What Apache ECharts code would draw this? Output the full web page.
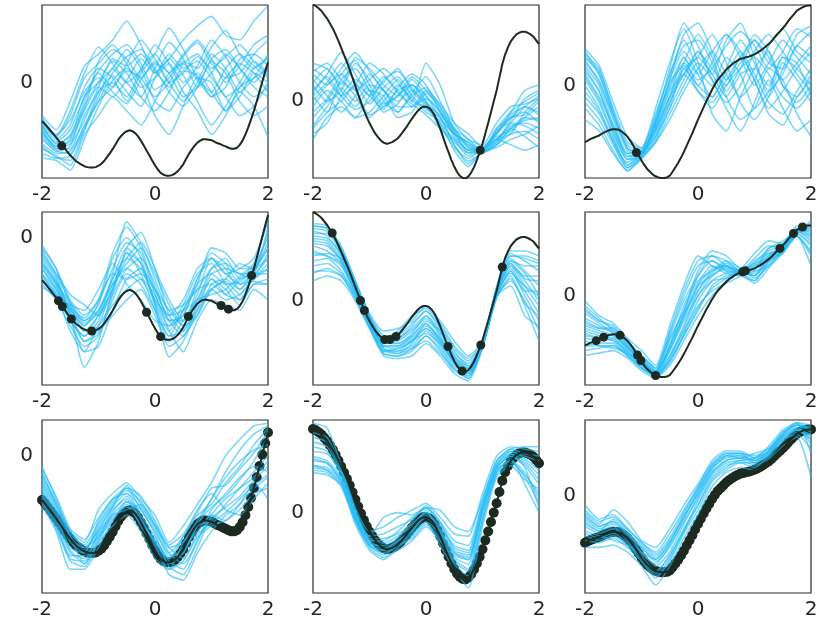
<!DOCTYPE html>
<html lang="en">
<head>
    <meta charset="UTF-8">
    <title>GP samples</title>
    <script src="https://cdn.jsdelivr.net/npm/echarts@6.0.0/dist/echarts.min.js"></script>
    <style>
        body {
            padding: 0;
            margin: 0;
            border: none;
            background: #fff;
        }
        #ec {
            width: 830px;
            height: 626px;
        }
    </style>
</head>
<body>
<div id="ec"></div>
<script>
    // x grids: fine one for the true function, coarse one for the posterior samples
    const xFine = [-2, -1.95, -1.9, -1.85, -1.8, -1.75, -1.7, -1.65, -1.6, -1.55, -1.5, -1.45, -1.4, -1.35, -1.3, -1.25,
        -1.2, -1.15, -1.1, -1.05, -1, -0.95, -0.9, -0.85, -0.8, -0.75, -0.7, -0.65, -0.6, -0.55, -0.5, -0.45, -0.4,
        -0.35, -0.3, -0.25, -0.2, -0.15, -0.1, -0.05, 0, 0.05, 0.1, 0.15, 0.2, 0.25, 0.3, 0.35, 0.4, 0.45, 0.5, 0.55,
        0.6, 0.65, 0.7, 0.75, 0.8, 0.85, 0.9, 0.95, 1, 1.05, 1.1, 1.15, 1.2, 1.25, 1.3, 1.35, 1.4, 1.45, 1.5, 1.55,
        1.6, 1.65, 1.7, 1.75, 1.8, 1.85, 1.9, 1.95, 2];
    const xCoarse = [-2, -1.75, -1.5, -1.25, -1, -0.75, -0.5, -0.25, 0, 0.25, 0.5, 0.75, 1, 1.25, 1.5, 1.75, 2];
    const xTicks = [-2, 0, 2];
    const yTicks = [0];

    // true functions, one per column
    const trueCol1 = [-0.82, -0.88, -0.95, -1.02, -1.09, -1.16, -1.24, -1.31, -1.39, -1.47, -1.54, -1.60, -1.66, -1.70,
        -1.74, -1.77, -1.79, -1.80, -1.80, -1.79, -1.76, -1.72, -1.66, -1.58, -1.50, -1.41, -1.31, -1.21, -1.13, -1.07,
        -1.03, -1.01, -1.03, -1.07, -1.14, -1.23, -1.33, -1.44, -1.54, -1.65, -1.75, -1.84, -1.91, -1.95, -1.97, -1.97,
        -1.96, -1.93, -1.88, -1.81, -1.73, -1.62, -1.51, -1.42, -1.34, -1.27, -1.23, -1.20, -1.20, -1.21, -1.22, -1.25,
        -1.28, -1.30, -1.33, -1.35, -1.38, -1.40, -1.40, -1.38, -1.32, -1.23, -1.10, -0.95, -0.78, -0.60, -0.40, -0.19,
        0.02, 0.23, 0.43];
    const trueCol2 = [1.78, 1.75, 1.71, 1.66, 1.59, 1.52, 1.43, 1.34, 1.23, 1.11, 0.98, 0.85, 0.72, 0.58, 0.43, 0.28,
        0.13, -0.02, -0.16, -0.29, -0.40, -0.50, -0.59, -0.66, -0.72, -0.76, -0.78, -0.77, -0.75, -0.72, -0.68, -0.62,
        -0.55, -0.48, -0.40, -0.32, -0.25, -0.18, -0.13, -0.10, -0.10, -0.12, -0.17, -0.25, -0.37, -0.50, -0.65, -0.80,
        -0.94, -1.08, -1.20, -1.30, -1.37, -1.41, -1.42, -1.38, -1.31, -1.21, -1.08, -0.94, -0.78, -0.59, -0.40, -0.20,
        0.00, 0.20, 0.44, 0.68, 0.86, 0.99, 1.10, 1.17, 1.23, 1.26, 1.28, 1.28, 1.26, 1.23, 1.19, 1.12, 1.05];
    const trueCol3 = [-1.00, -0.97, -0.94, -0.92, -0.90, -0.88, -0.85, -0.82, -0.80, -0.78, -0.77, -0.77, -0.78, -0.81,
        -0.85, -0.90, -0.97, -1.05, -1.14, -1.23, -1.32, -1.40, -1.47, -1.52, -1.57, -1.60, -1.62, -1.63, -1.63, -1.62,
        -1.59, -1.52, -1.44, -1.36, -1.27, -1.17, -1.06, -0.95, -0.84, -0.72, -0.60, -0.49, -0.38, -0.27, -0.17, -0.07,
        0.02, 0.10, 0.16, 0.22, 0.28, 0.33, 0.37, 0.41, 0.44, 0.47, 0.48, 0.50, 0.51, 0.53, 0.55, 0.58, 0.61, 0.65,
        0.69, 0.73, 0.78, 0.84, 0.90, 0.95, 1.01, 1.07, 1.14, 1.20, 1.26, 1.32, 1.35, 1.38, 1.40, 1.41, 1.41];

    // observations
    const obsR1C1X = [-1.65];
    const obsR1C1Y = [-1.34];
    const obsR1C2X = [0.96];
    const obsR1C2Y = [-0.90];
    const obsR1C3X = [-1.09];
    const obsR1C3Y = [-1.18];
    const obsR2C1X = [-1.71, -1.64, -1.48, -1.12, -0.15, 0.10, 0.59, 1.17, 1.30, 1.71];
    const obsR2C1Y = [-1.22, -1.33, -1.57, -1.80, -1.44, -1.91, -1.52, -1.31, -1.38, -0.73];
    const obsR2C2X = [-1.66, -1.16, -1.09, -0.73, -0.64, -0.53, 0.39, 0.64, 0.97, 1.35];
    const obsR2C2Y = [1.36, 0.01, -0.19, -0.77, -0.77, -0.71, -0.91, -1.40, -0.88, 0.68];
    const obsR2C3X = [-1.80, -1.67, -1.38, -1.07, -1.01, -0.75, 0.79, 0.84, 1.45, 1.69, 1.85];
    const obsR2C3Y = [-0.90, -0.83, -0.79, -1.19, -1.30, -1.60, 0.48, 0.50, 0.95, 1.25, 1.38];
    // bottom row: dense observations sitting on the true function
    const obsR3C1X = xFine, obsR3C1Y = trueCol1;
    const obsR3C2X = xFine, obsR3C2Y = trueCol2;
    const obsR3C3X = xFine, obsR3C3Y = trueCol3;

    // posterior samples, on xCoarse
    const samplesR1C1 = [
        [-0.70, -1.00, -0.40, 0.35, 0.60, 0.90, 1.30, 0.80, 0.20, 0.50, 0.90, 1.20, 1.40, 1.00, 0.90, 1.30, 1.62],
        [-0.85, -1.20, -0.90, -0.10, 0.30, 0.10, -0.40, 0.20, 0.60, 1.15, 0.70, 0.10, -0.20, 0.30, 0.60, 0.35, 0.10],
        [-1.00, -1.35, -1.10, -0.50, 0.00, 0.45, 0.20, -0.30, -0.60, -0.20, 0.40, 0.60, 0.20, -0.30, -0.10, 0.30, 0.50],
        [-1.20, -1.45, -1.50, -0.90, -0.40, 0.20, 0.55, 0.70, 0.30, -0.20, -0.50, -0.10, 0.50, 0.70, 0.30, -0.10, -0.30],
        [-0.90, -1.30, -1.25, -0.60, -0.10, -0.30, 0.05, 0.50, 0.20, 0.50, 0.15, -0.40, -0.90, -0.50, 0.00, 0.45, 0.20],
        [-1.40, -1.55, -1.75, -1.10, -0.70, -0.30, -0.60, -0.90, -0.40, 0.20, 0.40, 0.05, -0.30, 0.10, 0.40, 0.20, -0.20],
        [-0.80, -1.15, -0.70, 0.10, 0.40, 0.70, 0.50, 0.10, 0.40, 0.20, -0.30, -0.10, 0.45, 0.20, -0.40, -0.70, -0.50],
        [-1.10, -1.40, -1.40, -0.70, -0.20, 0.15, -0.20, -0.50, 0.10, 0.60, 0.30, 0.45, 0.10, -0.30, -0.70, -0.50, 0.00],
        [-1.60, -1.65, -1.85, -1.20, -0.50, 0.05, 0.30, 0.00, -0.70, -1.10, -0.50, 0.10, 0.00, -0.60, -0.20, -0.50, -1.15],
        [-0.95, -1.25, -1.00, -0.30, 0.25, 0.60, 0.80, 0.40, -0.15, 0.10, 0.55, 0.85, 0.40, 0.10, 0.20, 0.60, 0.90],
        [-1.30, -1.50, -1.45, -0.95, -0.30, 0.30, 0.00, 0.25, 0.80, 0.40, -0.20, -0.60, -1.10, -0.70, -0.10, 0.10, 0.30],
        [-0.75, -1.10, -0.80, -0.20, 0.10, -0.20, -0.45, 0.05, 0.45, 0.00, 0.20, 0.55, 0.30, 0.55, 0.80, 0.45, 0.15],
        [-1.05, -1.35, -1.30, -0.80, -0.10, 0.50, 0.35, 0.60, 0.25, -0.10, 0.25, 0.15, -0.30, -0.10, 0.50, 0.60, 0.35],
        [-1.50, -1.60, -1.55, -1.00, -0.40, -0.10, 0.25, 0.10, -0.30, 0.00, 0.45, 0.30, 0.75, 1.10, 0.60, 0.30, 0.55],
        [-0.78, -1.12, -0.60, 0.20, 0.75, 0.40, 0.00, -0.30, 0.30, 0.85, 0.50, -0.10, 0.20, 0.60, 0.30, 0.00, 0.40],
        [-1.15, -1.45, -1.35, -0.40, 0.20, -0.10, 0.40, 0.90, 0.50, 0.00, -0.40, 0.00, 0.60, 0.30, -0.20, 0.10, 0.60],
        [-0.88, -1.28, -1.15, -0.55, 0.45, 0.80, 0.40, -0.10, 0.10, 0.40, 0.00, 0.35, 0.90, 0.55, 0.00, -0.30, -0.10],
        [-1.35, -1.58, -1.65, -1.00, -0.20, 0.00, -0.30, 0.30, 0.60, 0.20, 0.60, 0.90, 0.50, 0.00, 0.35, 0.80, 1.00],
        [-1.00, -1.40, -1.20, -0.30, 0.00, 0.30, 0.70, 0.30, -0.40, -0.60, -0.10, 0.20, -0.20, -0.60, -0.30, 0.20, 0.00]
    ];
    const samplesR1C2 = [
        [0.70, 0.60, 0.30, 0.80, 0.60, 0.30, 0.10, 0.40, 0.10, -0.30, -0.60, -0.80, -0.90, -0.50, -0.20, 0.00, 0.15],
        [0.20, 0.50, 0.90, 0.50, 0.10, 0.35, 0.60, 0.20, -0.10, -0.40, -0.70, -1.00, -0.90, -0.70, -0.40, -0.10, 0.10],
        [-0.10, 0.20, 0.00, -0.30, 0.10, 0.45, 0.20, -0.10, 0.05, -0.20, -0.50, -0.70, -0.90, -0.60, -0.30, -0.20, -0.40],
        [-0.60, -0.40, 0.10, 0.40, 0.20, -0.10, 0.10, 0.30, 0.00, -0.30, -0.80, -1.10, -0.95, -0.80, -0.60, -0.55, -0.70],
        [0.40, 0.10, -0.20, 0.10, 0.50, 0.20, -0.10, -0.10, 0.20, -0.05, -0.40, -0.60, -0.85, -0.55, -0.20, 0.20, 0.30],
        [0.10, -0.20, 0.40, 0.60, 0.20, -0.20, -0.05, 0.30, 0.10, -0.20, -0.65, -0.90, -0.95, -0.80, -0.50, -0.35, -0.30],
        [-0.70, -0.30, -0.10, -0.30, -0.20, 0.10, 0.40, 0.00, -0.10, -0.40, -0.90, -1.20, -0.90, -0.70, -0.80, -0.90, -0.80],
        [0.55, 0.70, 0.40, 0.20, 0.40, 0.60, 0.35, 0.00, 0.70, 0.30, -0.40, -0.70, -0.80, -0.40, -0.10, -0.05, 0.05],
        [0.00, 0.30, 0.50, 0.20, -0.25, -0.10, 0.20, 0.30, 0.00, -0.50, -0.75, -0.95, -0.90, -0.75, -0.45, -0.40, -0.50],
        [0.30, 0.00, 0.20, 0.70, 0.40, 0.00, -0.20, 0.10, 0.25, -0.10, -0.55, -0.85, -0.88, -0.50, -0.30, -0.10, -0.20],
        [-0.30, 0.00, 0.35, 0.10, -0.30, 0.00, 0.30, 0.05, -0.20, -0.35, -0.60, -0.75, -0.92, -0.85, -0.70, -0.60, -0.45],
        [0.50, 0.30, 0.60, 0.90, 0.55, 0.20, 0.00, 0.20, -0.05, -0.45, -0.85, -1.05, -0.85, -0.60, -0.30, -0.25, 0.00],
        [-0.45, -0.10, 0.25, 0.00, 0.30, 0.20, -0.20, 0.15, 0.45, 0.00, -0.50, -0.80, -0.95, -0.70, -0.50, -0.65, -0.85],
        [0.15, 0.45, 0.10, -0.15, 0.00, 0.40, 0.55, 0.25, -0.05, -0.25, -0.55, -0.95, -0.90, -0.65, -0.55, -0.30, -0.10],
        [0.35, 0.60, 0.20, -0.10, 0.20, 0.10, -0.30, -0.20, 0.15, -0.10, -0.50, -0.85, -0.92, -0.75, -0.35, 0.05, 0.20],
        [-0.20, 0.05, 0.50, 0.75, 0.30, -0.05, 0.10, 0.45, 0.20, -0.15, -0.60, -0.90, -0.90, -0.55, -0.40, -0.45, -0.60],
        [0.60, 0.40, 0.10, 0.30, 0.70, 0.50, 0.15, -0.05, -0.25, -0.50, -0.70, -0.90, -0.88, -0.70, -0.60, -0.20, 0.05],
        [-0.50, -0.20, 0.00, 0.30, 0.10, -0.15, 0.25, 0.50, 0.30, -0.20, -0.60, -0.75, -0.93, -0.80, -0.50, -0.30, -0.35],
        [0.10, 0.35, 0.70, 0.35, -0.05, 0.25, 0.45, 0.10, -0.15, -0.30, -0.80, -1.15, -0.90, -0.60, -0.25, -0.10, -0.25]
    ];
    const samplesR1C3 = [
        [0.60, 0.20, -0.50, -1.10, -1.20, -0.60, 0.30, 1.10, 0.70, 0.20, 0.80, 1.10, 0.50, -0.20, 0.30, 0.90, 1.05],
        [0.40, 0.10, -0.60, -1.20, -1.15, -0.80, -0.20, 0.40, 0.90, 0.50, -0.10, 0.30, 0.80, 0.50, 0.10, 0.40, 0.70],
        [0.30, -0.10, -0.80, -1.30, -1.25, -0.70, 0.10, 0.60, 0.20, -0.20, 0.20, 0.60, 0.20, -0.30, -0.50, -0.10, 0.30],
        [0.10, -0.30, -0.90, -1.40, -1.20, -0.90, -0.30, 0.30, 0.50, 0.90, 0.40, -0.30, -0.60, -0.20, 0.40, 0.10, -0.30],
        [0.50, 0.25, -0.40, -1.00, -1.10, -0.50, 0.20, 0.80, 0.30, 0.00, 0.50, 0.20, -0.40, -0.10, 0.50, 0.30, 0.00],
        [-0.20, -0.50, -1.00, -1.45, -1.25, -1.00, -0.50, 0.00, 0.40, 0.10, -0.40, -0.80, -0.30, 0.30, 0.10, -0.50, -0.90],
        [0.20, -0.20, -0.70, -1.20, -1.20, -0.60, 0.00, 0.50, 0.00, 0.40, 0.90, 0.50, 0.00, 0.40, 0.80, 0.50, 0.20],
        [0.00, -0.40, -1.00, -1.35, -1.18, -0.75, -0.10, 0.20, -0.10, -0.40, 0.00, 0.30, 0.50, 0.20, -0.20, -0.40, -0.10],
        [0.65, 0.35, -0.30, -0.90, -1.10, -0.40, 0.40, 1.00, 0.40, -0.50, -0.80, -0.20, 0.30, 0.60, 0.00, -0.20, 0.20],
        [-0.40, -0.70, -1.15, -1.50, -1.30, -1.00, -0.60, -0.10, 0.30, 0.60, 0.20, -0.20, 0.10, 0.70, 1.00, 0.60, 0.40],
        [0.35, 0.00, -0.70, -1.25, -1.20, -0.85, -0.30, 0.20, 0.60, 0.10, -0.30, 0.00, 0.60, 0.90, 0.60, 0.20, -0.10],
        [-0.60, -0.80, -1.20, -1.50, -1.25, -0.90, -0.40, 0.30, 0.00, -0.20, 0.30, 0.80, 0.40, -0.10, 0.20, 0.70, 0.50],
        [0.15, -0.25, -0.85, -1.30, -1.15, -0.55, 0.20, 0.70, 0.80, 0.40, -0.20, -0.60, -0.40, 0.10, -0.40, -0.80, -0.60],
        [0.45, 0.05, -0.55, -1.15, -1.20, -0.70, -0.05, 0.40, 0.10, 0.30, 0.70, 0.95, 0.70, 0.30, 0.60, 1.00, 0.85],
        [0.55, 0.30, -0.45, -1.05, -1.15, -0.65, 0.10, 0.90, 1.10, 0.60, 0.10, 0.40, 0.90, 0.60, 0.00, -0.30, 0.00],
        [-0.10, -0.45, -0.95, -1.40, -1.22, -0.80, -0.20, 0.50, 0.20, 0.60, 0.90, 0.60, 0.10, -0.40, -0.10, 0.30, 0.60],
        [0.25, -0.10, -0.75, -1.25, -1.18, -0.65, 0.05, 0.35, -0.10, -0.30, 0.10, 0.50, 0.80, 0.40, 0.30, 0.70, 0.95],
        [0.50, 0.20, -0.50, -1.10, -1.20, -0.75, -0.20, 0.20, 0.50, 0.20, -0.20, 0.20, 0.30, 0.00, 0.50, 0.40, -0.20],
        [-0.30, -0.60, -1.05, -1.45, -1.28, -0.95, -0.40, 0.10, 0.60, 0.30, 0.00, 0.50, 0.10, -0.50, -0.70, -0.20, 0.10]
    ];
    const samplesR2C1 = [
        [-0.20, -0.60, -1.20, -1.50, -1.20, -0.30, 0.20, -0.20, -1.00, -1.50, -1.20, -0.60, -0.40, -0.70, -0.60, -0.40, 0.30],
        [-0.60, -0.95, -1.40, -1.70, -1.40, -0.80, -0.40, -0.60, -1.20, -1.70, -1.50, -0.90, -0.70, -0.90, -0.85, -0.60, -0.20],
        [-0.90, -1.20, -1.70, -2.10, -1.90, -1.20, -0.70, -0.90, -1.40, -1.90, -1.80, -1.30, -1.00, -1.20, -1.10, -0.80, -0.50],
        [-0.40, -0.80, -1.50, -2.50, -2.00, -1.00, -0.30, -0.50, -1.30, -2.30, -2.00, -1.40, -0.80, -1.00, -1.30, -0.90, -0.90],
        [-0.70, -1.10, -1.30, -1.40, -1.00, -0.50, -0.90, -1.20, -1.60, -1.70, -1.30, -0.70, -0.50, -0.90, -1.20, -0.75, -0.40],
        [-0.50, -0.90, -1.60, -1.90, -1.60, -0.70, 0.30, -0.10, -0.80, -1.40, -1.30, -1.00, -0.60, -0.50, -0.70, -0.70, -0.30],
        [-0.30, -0.70, -1.10, -1.30, -1.50, -1.10, -0.60, -0.40, -0.90, -1.60, -1.60, -1.10, -0.40, -0.60, -1.00, -0.70, 0.10],
        [-0.80, -1.10, -1.80, -2.20, -1.70, -1.30, -1.00, -0.80, -1.10, -1.80, -2.20, -1.60, -1.20, -1.30, -1.40, -1.00, -1.20],
        [-0.60, -1.00, -1.40, -1.60, -1.30, -0.40, 0.00, -0.40, -1.30, -1.90, -1.40, -0.80, -0.30, -0.50, -0.90, -0.80, -0.60],
        [-0.15, -0.60, -1.30, -1.80, -1.70, -0.90, -0.50, -0.20, -0.70, -1.30, -1.70, -1.00, -0.90, -1.10, -0.80, -0.55, 0.00],
        [-0.70, -1.00, -1.50, -2.00, -1.80, -1.50, -1.20, -1.00, -1.50, -2.10, -1.90, -1.50, -0.90, -0.80, -1.00, -0.70, -0.70],
        [-0.45, -0.85, -1.35, -1.70, -1.25, -0.60, -0.10, -0.30, -1.10, -1.60, -1.50, -0.80, -0.40, -0.70, -0.90, -0.65, -0.10],
        [-0.95, -1.15, -1.60, -1.90, -1.50, -1.00, -0.30, -0.70, -1.40, -2.00, -1.60, -1.20, -1.10, -1.00, -0.75, -0.50, 0.40],
        [-0.55, -0.90, -1.25, -1.60, -1.40, -0.90, -0.60, -0.80, -1.20, -1.50, -1.40, -1.20, -0.70, -0.60, -0.70, -0.85, -0.90],
        [-0.35, -0.75, -1.45, -2.00, -1.85, -1.10, -0.20, 0.10, -0.60, -1.20, -1.60, -1.20, -0.60, -0.40, -0.80, -0.65, -0.20],
        [-0.75, -1.05, -1.35, -1.55, -1.20, -0.70, -0.80, -0.70, -1.00, -1.40, -1.70, -1.50, -1.00, -0.85, -1.10, -0.75, -0.60],
        [-0.25, -0.70, -1.25, -1.65, -1.45, -0.80, -0.20, -0.50, -1.25, -1.80, -1.40, -0.90, -0.20, -0.30, -0.60, -0.60, 0.20],
        [-0.85, -1.10, -1.55, -2.20, -2.10, -1.40, -0.80, -0.60, -1.00, -1.60, -1.90, -1.30, -0.80, -1.10, -1.20, -0.90, -0.80],
        [-0.50, -0.85, -1.45, -1.80, -1.50, -1.00, -0.40, -0.10, -0.60, -1.50, -1.80, -1.40, -1.00, -0.80, -0.50, -0.60, -0.40]
    ];
    const samplesR2C2 = [
        [1.55, 1.50, 1.10, 0.40, -0.30, -0.70, -0.75, -0.50, -0.20, -0.55, -1.00, -1.30, -0.90, 0.20, 0.95, 0.80, 0.60],
        [1.40, 1.30, 0.90, 0.30, -0.35, -0.80, -0.85, -0.70, -0.40, -0.60, -1.10, -1.35, -0.88, 0.15, 0.85, 0.60, 0.30],
        [1.20, 1.15, 0.80, 0.20, -0.40, -0.90, -0.90, -0.75, -0.50, -0.75, -1.20, -1.40, -0.85, 0.20, 0.70, 0.30, -0.10],
        [1.00, 0.90, 0.70, 0.15, -0.45, -1.00, -1.00, -0.90, -0.60, -0.90, -1.30, -1.45, -0.90, 0.10, 0.60, 0.10, -0.40],
        [0.80, 0.85, 0.60, 0.10, -0.50, -1.05, -1.10, -1.00, -0.70, -1.00, -1.40, -1.50, -0.90, 0.05, 0.50, -0.10, -0.80],
        [0.60, 0.60, 0.50, 0.05, -0.55, -1.10, -1.15, -1.10, -0.85, -1.10, -1.45, -1.60, -0.95, 0.10, 0.40, 0.00, -0.60],
        [1.50, 1.45, 1.00, 0.35, -0.25, -0.60, -0.55, -0.40, -0.10, -0.40, -0.80, -1.10, -0.80, 0.30, 1.00, 1.00, 0.90],
        [1.30, 1.25, 0.95, 0.25, -0.35, -0.75, -0.60, -0.30, -0.15, -0.45, -0.90, -1.15, -0.85, 0.25, 0.80, 0.70, 0.70],
        [0.40, 0.50, 0.40, 0.00, -0.55, -1.00, -0.95, -0.80, -0.55, -0.80, -1.25, -1.50, -0.90, 0.15, 0.55, 0.30, 0.10],
        [1.10, 1.00, 0.75, 0.15, -0.40, -0.85, -0.80, -0.60, -0.35, -0.70, -1.15, -1.35, -0.87, 0.20, 0.75, 0.45, 0.40],
        [0.90, 0.95, 0.85, 0.30, -0.30, -0.95, -1.05, -0.95, -0.80, -1.05, -1.35, -1.55, -0.90, 0.10, 0.30, -0.30, -0.50],
        [1.45, 1.40, 1.05, 0.40, -0.30, -0.80, -0.85, -0.65, -0.30, -0.65, -1.05, -1.25, -0.88, 0.25, 0.90, 0.85, 0.75],
        [0.70, 0.75, 0.55, 0.10, -0.50, -1.00, -1.05, -0.85, -0.45, -0.80, -1.20, -1.40, -0.90, 0.10, 0.60, 0.20, 0.20],
        [1.25, 1.20, 0.85, 0.25, -0.40, -0.90, -0.95, -0.80, -0.65, -0.85, -1.20, -1.45, -0.90, 0.15, 0.70, 0.40, 0.00],
        [1.35, 1.35, 0.95, 0.30, -0.30, -0.85, -0.75, -0.55, -0.30, -0.60, -1.10, -1.30, -0.88, 0.20, 0.80, 0.55, 0.10],
        [0.95, 0.90, 0.75, 0.20, -0.45, -0.95, -1.00, -0.80, -0.55, -0.85, -1.25, -1.45, -0.90, 0.15, 0.65, 0.20, -0.25],
        [1.50, 1.45, 1.05, 0.35, -0.30, -0.75, -0.70, -0.45, -0.20, -0.50, -0.95, -1.20, -0.85, 0.25, 0.90, 0.90, 0.80],
        [0.55, 0.65, 0.50, 0.05, -0.50, -1.05, -1.10, -0.95, -0.70, -0.95, -1.35, -1.55, -0.92, 0.10, 0.45, -0.05, -0.30],
        [1.15, 1.10, 0.80, 0.20, -0.40, -0.90, -0.90, -0.70, -0.45, -0.75, -1.15, -1.40, -0.88, 0.15, 0.75, 0.50, 0.50]
    ];
    const samplesR2C3 = [
        [-0.30, -0.50, -0.60, -0.90, -1.20, -1.45, -0.80, -0.10, 0.40, 0.70, 0.50, 0.45, 0.60, 0.90, 1.00, 1.35, 1.20],
        [-0.60, -0.70, -0.80, -1.00, -1.30, -1.55, -1.00, -0.40, 0.20, 0.40, 0.60, 0.50, 0.40, 0.75, 0.95, 1.30, 1.45],
        [-0.90, -1.00, -1.05, -1.15, -1.40, -1.60, -1.20, -0.70, -0.20, 0.10, 0.25, 0.40, 0.70, 0.85, 0.90, 1.25, 1.00],
        [-1.20, -1.15, -1.10, -1.25, -1.50, -1.65, -1.40, -0.90, -0.40, 0.00, 0.30, 0.50, 0.50, 0.60, 0.85, 1.30, 1.30],
        [-0.10, -0.40, -0.55, -0.85, -1.10, -1.40, -0.60, 0.20, 0.80, 0.60, 0.45, 0.40, 0.30, 0.70, 0.95, 1.20, 0.80],
        [-0.75, -0.85, -0.90, -1.10, -1.35, -1.50, -0.90, -0.30, 0.50, 0.90, 0.80, 0.55, 0.85, 1.10, 1.05, 1.40, 1.40],
        [-1.00, -0.95, -0.95, -1.20, -1.45, -1.60, -1.30, -0.80, -0.30, 0.20, 0.40, 0.45, 0.30, 0.65, 0.92, 1.30, 1.10],
        [-0.45, -0.60, -0.75, -1.05, -1.30, -1.55, -1.10, -0.50, 0.00, 0.30, 0.35, 0.50, 0.55, 0.80, 0.95, 1.25, 1.50],
        [-0.85, -0.90, -0.85, -1.10, -1.40, -1.58, -1.20, -0.60, 0.10, 0.50, 0.60, 0.45, 0.25, 0.55, 0.90, 1.20, 0.90],
        [-0.20, -0.45, -0.70, -0.95, -1.25, -1.50, -0.75, 0.00, 0.60, 0.70, 0.55, 0.45, 0.50, 0.95, 1.10, 1.30, 1.35],
        [-1.10, -1.05, -1.00, -1.20, -1.45, -1.62, -1.30, -0.75, -0.10, 0.30, 0.45, 0.50, 0.65, 0.75, 0.85, 1.20, 0.60],
        [-0.55, -0.65, -0.65, -1.00, -1.30, -1.55, -1.00, -0.20, 0.30, 0.50, 0.70, 0.55, 0.35, 0.60, 0.95, 1.35, 1.25],
        [-0.70, -0.80, -0.85, -1.15, -1.35, -1.55, -1.10, -0.45, 0.20, 0.55, 0.60, 0.45, 0.45, 0.80, 1.00, 1.25, 1.05],
        [-0.35, -0.55, -0.75, -1.05, -1.25, -1.50, -0.85, -0.30, 0.40, 0.80, 0.70, 0.50, 0.75, 1.00, 0.95, 1.30, 1.15],
        [-0.50, -0.65, -0.70, -1.00, -1.30, -1.55, -1.05, -0.35, 0.25, 0.60, 0.50, 0.45, 0.55, 0.85, 0.95, 1.25, 1.40],
        [-0.80, -0.85, -0.90, -1.15, -1.40, -1.60, -1.25, -0.65, 0.00, 0.40, 0.55, 0.50, 0.40, 0.70, 0.92, 1.30, 1.20],
        [-0.25, -0.50, -0.65, -0.95, -1.20, -1.45, -0.70, 0.10, 0.70, 0.80, 0.60, 0.45, 0.65, 0.95, 1.05, 1.35, 1.30],
        [-1.00, -1.00, -1.00, -1.20, -1.45, -1.62, -1.35, -0.80, -0.25, 0.15, 0.35, 0.50, 0.60, 0.70, 0.88, 1.20, 0.85],
        [-0.65, -0.75, -0.80, -1.05, -1.35, -1.55, -1.00, -0.40, 0.10, 0.45, 0.65, 0.50, 0.40, 0.75, 1.00, 1.30, 1.35]
    ];
    const samplesR3C1 = [
        [-0.20, -0.80, -1.40, -1.60, -1.00, -0.70, -0.50, -0.80, -1.10, -1.60, -1.30, -0.90, -0.50, 0.00, 0.30, 0.55, 0.60],
        [-0.50, -1.00, -1.60, -1.80, -1.30, -0.90, -0.60, -1.00, -1.40, -1.80, -1.50, -1.10, -0.90, -0.50, -0.20, 0.20, 0.50],
        [-0.70, -1.20, -1.80, -1.90, -1.50, -1.00, -0.80, -1.20, -1.60, -2.00, -1.80, -1.30, -1.20, -0.90, -0.60, -0.30, 0.00],
        [-0.90, -1.40, -2.10, -2.10, -1.70, -1.20, -0.90, -1.30, -1.70, -2.20, -2.30, -1.80, -1.40, -1.10, -0.90, -0.50, -0.80],
        [-0.40, -0.90, -1.40, -1.70, -1.40, -1.10, -1.00, -0.90, -1.30, -1.80, -2.00, -1.60, -1.00, -0.70, -0.40, -0.20, -0.30],
        [-0.60, -1.10, -1.70, -1.80, -1.20, -0.80, -0.70, -1.10, -1.50, -1.90, -1.70, -1.40, -1.10, -1.20, -0.90, -0.60, -0.40],
        [-0.30, -0.90, -1.50, -2.00, -1.60, -1.30, -1.10, -1.40, -1.90, -2.10, -1.60, -1.20, -0.80, -0.40, -0.10, 0.10, 0.20],
        [-0.80, -1.30, -1.90, -1.95, -1.40, -0.95, -0.55, -0.90, -1.30, -1.70, -1.90, -1.50, -1.30, -1.20, -1.00, -0.70, -0.60],
        [-0.55, -1.05, -1.55, -1.70, -1.50, -1.20, -0.85, -1.00, -1.45, -2.05, -2.20, -1.70, -1.10, -0.80, -0.60, -0.40, -0.10],
        [-0.65, -1.15, -1.75, -2.00, -1.55, -1.05, -0.75, -1.15, -1.60, -1.90, -1.50, -1.00, -0.70, -1.00, -1.10, -0.80, -0.50],
        [-0.35, -0.85, -1.45, -1.65, -1.25, -0.85, -0.65, -0.85, -1.25, -1.70, -1.60, -1.25, -0.95, -0.75, -0.45, -0.10, 0.35],
        [-0.75, -1.25, -1.85, -1.85, -1.45, -1.15, -0.95, -1.25, -1.55, -1.95, -2.10, -1.55, -1.15, -0.95, -0.75, -0.45, -0.20],
        [-0.45, -0.95, -1.50, -1.75, -1.35, -0.95, -0.70, -0.95, -1.35, -1.85, -1.80, -1.30, -0.80, -0.30, 0.10, 0.40, 0.55],
        [-0.85, -1.35, -1.95, -2.05, -1.60, -1.10, -0.85, -1.20, -1.65, -2.10, -1.95, -1.45, -1.25, -1.05, -0.80, -0.55, -0.35],
        [-0.25, -0.75, -1.35, -1.55, -1.15, -0.80, -0.60, -0.75, -1.20, -1.65, -1.45, -1.05, -0.60, -0.55, -0.25, 0.05, 0.45]
    ];
    const samplesR3C2 = [
        [1.90, 1.80, 1.00, 0.10, -0.40, -0.30, -0.10, 0.05, 0.20, -0.10, -0.45, -0.50, 0.40, 1.20, 1.40, 1.35, 1.30],
        [1.40, 1.30, 0.80, -0.05, -0.60, -0.60, -0.40, -0.10, 0.10, -0.25, -0.70, -0.80, 0.20, 1.05, 1.30, 1.15, 0.90],
        [1.00, 0.95, 0.70, -0.15, -0.70, -0.80, -0.60, -0.40, -0.10, -0.40, -0.90, -1.00, 0.10, 0.95, 1.20, 1.00, 0.60],
        [0.90, 0.85, 0.55, -0.20, -0.75, -0.95, -0.80, -0.60, -0.30, -0.60, -1.10, -1.35, -0.20, 0.80, 1.05, 0.80, 0.40],
        [1.20, 1.10, 0.75, -0.10, -0.65, -0.70, -0.55, -0.20, 0.15, -0.20, -0.80, -0.90, 0.00, 0.90, 1.25, 0.95, 0.10],
        [1.60, 1.50, 0.90, 0.00, -0.55, -0.65, -0.50, -0.30, 0.05, -0.50, -1.00, -1.20, -0.10, 0.85, 1.15, 0.60, 0.00],
        [1.10, 1.05, 0.65, -0.10, -0.50, -0.10, 0.00, -0.05, 0.10, 0.05, -0.30, -0.40, 0.30, 1.10, 1.35, 1.40, 1.40],
        [0.85, 0.80, 0.60, -0.25, -0.80, -1.00, -0.75, -0.50, -0.20, -0.70, -1.20, -1.60, -0.30, 0.75, 1.00, 0.70, 0.50],
        [1.30, 1.25, 0.85, 0.00, -0.60, -0.75, -0.60, -0.35, 0.00, -0.30, -0.75, -0.85, 0.15, 1.00, 1.25, 1.10, 0.80],
        [1.00, 0.90, 0.60, -0.15, -0.70, -0.85, -0.70, -0.45, -0.20, -0.45, -0.95, -1.10, 0.05, 0.90, 1.10, 0.85, 0.30],
        [1.50, 1.40, 0.85, -0.05, -0.55, -0.55, -0.45, -0.25, 0.00, -0.35, -0.85, -1.00, 0.10, 1.00, 1.30, 1.20, 1.10],
        [0.95, 0.90, 0.65, -0.15, -0.70, -0.90, -0.70, -0.55, -0.25, -0.55, -1.05, -1.25, -0.15, 0.85, 1.10, 0.75, 0.20],
        [1.70, 1.60, 0.95, 0.05, -0.50, -0.45, -0.30, -0.15, 0.10, -0.20, -0.60, -0.70, 0.25, 1.10, 1.35, 1.25, 1.20],
        [1.15, 1.05, 0.70, -0.10, -0.65, -0.80, -0.65, -0.40, -0.05, -0.40, -0.85, -0.95, 0.05, 0.95, 1.20, 1.05, 0.70]
    ];
    const samplesR3C3 = [
        [-0.20, -0.50, -0.40, -0.70, -1.00, -1.20, -0.80, -0.30, 0.20, 0.75, 0.95, 0.95, 0.80, 1.05, 1.40, 1.55, 1.40],
        [-0.50, -0.70, -0.60, -0.85, -1.10, -1.40, -1.10, -0.50, 0.10, 0.60, 0.80, 0.85, 0.75, 0.95, 1.30, 1.50, 1.45],
        [-0.80, -0.90, -0.80, -1.00, -1.30, -1.60, -1.30, -0.70, -0.20, 0.35, 0.60, 0.75, 0.65, 0.80, 1.15, 1.35, 1.30],
        [-1.10, -1.10, -1.05, -1.20, -1.50, -1.90, -1.50, -0.90, -0.40, 0.20, 0.50, 0.60, 0.55, 0.75, 1.05, 1.25, 0.40],
        [-0.35, -0.60, -0.30, -0.55, -0.95, -1.10, -0.70, -0.20, 0.25, 0.70, 0.90, 0.90, 0.85, 1.00, 1.35, 1.50, 1.35],
        [-0.65, -0.80, -0.70, -0.90, -1.20, -1.50, -1.20, -0.60, 0.00, 0.50, 0.75, 0.80, 0.70, 0.90, 1.20, 1.40, 1.20],
        [-0.95, -1.00, -0.90, -1.10, -1.40, -1.75, -1.40, -0.80, -0.30, 0.30, 0.55, 0.70, 0.60, 0.85, 1.25, 1.45, 1.10],
        [-0.55, -0.75, -0.50, -0.75, -1.20, -1.35, -1.00, -0.40, 0.15, 0.65, 0.85, 0.80, 0.90, 1.00, 1.30, 1.55, 1.50],
        [-0.75, -0.85, -0.95, -1.05, -1.30, -1.65, -1.25, -0.75, -0.10, 0.45, 0.70, 0.75, 0.80, 0.95, 1.20, 1.30, 1.00],
        [-0.40, -0.65, -0.55, -0.80, -1.05, -1.30, -0.95, -0.45, 0.05, 0.55, 0.85, 0.90, 0.70, 0.85, 1.25, 1.45, 1.25],
        [-0.60, -0.75, -0.65, -0.95, -1.25, -1.45, -1.05, -0.55, -0.05, 0.50, 0.75, 0.80, 0.75, 0.90, 1.25, 1.40, 1.30],
        [-0.30, -0.55, -0.45, -0.70, -1.00, -1.25, -0.90, -0.35, 0.15, 0.65, 0.90, 0.90, 0.80, 0.95, 1.35, 1.55, 0.90],
        [-0.45, -0.65, -0.55, -0.80, -1.10, -1.35, -1.00, -0.45, 0.05, 0.60, 0.85, 0.85, 0.75, 0.95, 1.30, 1.50, 1.40],
        [-0.85, -0.95, -0.85, -1.05, -1.35, -1.70, -1.35, -0.75, -0.20, 0.40, 0.65, 0.70, 0.70, 0.90, 1.20, 1.40, 1.20]
    ];

    // layout of the 3x3 panels
    const colLeft = [42, 313, 585];
    const rowTop = [5, 212, 420];
    const panelW = 226;
    const panelH = 173;
    const panels = [
        {row: 0, col: 0, yMin: -2.02, yMax: 1.64, f: trueCol1, s: samplesR1C1, ox: obsR1C1X, oy: obsR1C1Y},
        {row: 0, col: 1, yMin: -1.41, yMax: 1.77, f: trueCol2, s: samplesR1C2, ox: obsR1C2X, oy: obsR1C2Y},
        {row: 0, col: 2, yMin: -1.63, yMax: 1.42, f: trueCol3, s: samplesR1C3, ox: obsR1C3X, oy: obsR1C3Y},
        {row: 1, col: 0, yMin: -2.84, yMax: 0.49, f: trueCol1, s: samplesR2C1, ox: obsR2C1X, oy: obsR2C1Y},
        {row: 1, col: 1, yMin: -1.68, yMax: 1.78, f: trueCol2, s: samplesR2C2, ox: obsR2C2X, oy: obsR2C2Y},
        {row: 1, col: 2, yMin: -1.79, yMax: 1.68, f: trueCol3, s: samplesR2C3, ox: obsR2C3X, oy: obsR2C3Y},
        {row: 2, col: 0, yMin: -2.54, yMax: 0.66, f: trueCol1, s: samplesR3C1, ox: obsR3C1X, oy: obsR3C1Y},
        {row: 2, col: 1, yMin: -1.71, yMax: 1.97, f: trueCol2, s: samplesR3C2, ox: obsR3C2X, oy: obsR3C2Y},
        {row: 2, col: 2, yMin: -2.07, yMax: 1.61, f: trueCol3, s: samplesR3C3, ox: obsR3C3X, oy: obsR3C3Y}
    ];

    const BLACK = '#1c2a22';
    const BLUE = '#26bcf7';
    const labelStyle = {
        fontFamily: 'DejaVu Sans',
        fontSize: 20,
        color: '#262626'
    };

    let option = {
        animation: false,
        backgroundColor: '#fff',
        grid: [],
        xAxis: [],
        yAxis: [],
        series: []
    };

    panels.forEach((p, i) => {
        let dense = p.row === 2;
        option.grid.push({
            left: colLeft[p.col],
            top: rowTop[p.row],
            width: panelW,
            height: panelH,
            show: true,
            borderColor: '#2b2b2b',
            borderWidth: 1.2,
            backgroundColor: '#fff'
        });
        option.xAxis.push({
            gridIndex: i,
            type: 'value',
            min: -2,
            max: 2,
            axisLine: {show: false},
            axisTick: {show: false},
            splitLine: {show: false},
            axisLabel: Object.assign({
                margin: 7,
                customValues: xTicks,
                formatter: v => xTicks.includes(v) ? String(v) : ''
            }, labelStyle)
        });
        option.yAxis.push({
            gridIndex: i,
            type: 'value',
            min: p.yMin,
            max: p.yMax,
            axisLine: {show: false},
            axisTick: {show: false},
            splitLine: {show: false},
            axisLabel: Object.assign({
                margin: 9,
                customValues: yTicks,
                formatter: v => yTicks.includes(v) ? String(v) : ''
            }, labelStyle)
        });
        // observations: dense ones sit under the samples, sparse ones on top
        option.series.push({
            type: 'scatter',
            xAxisIndex: i,
            yAxisIndex: i,
            data: p.ox.map((x, k) => [x, p.oy[k]]),
            symbolSize: dense ? 10 : 9,
            silent: true,
            z: dense ? 1 : 4,
            itemStyle: {color: BLACK, opacity: 1}
        });
        // posterior samples
        p.s.forEach(line => {
            option.series.push({
                type: 'line',
                xAxisIndex: i,
                yAxisIndex: i,
                data: xCoarse.map((x, k) => [x, line[k]]),
                showSymbol: false,
                smooth: 0.2,
                silent: true,
                z: 2,
                lineStyle: {color: BLUE, width: 1.6, opacity: 0.6}
            });
        });
        // true function
        option.series.push({
            type: 'line',
            xAxisIndex: i,
            yAxisIndex: i,
            data: xFine.map((x, k) => [x, p.f[k]]),
            showSymbol: false,
            silent: true,
            z: 3,
            lineStyle: {color: BLACK, width: 2}
        });
    });

    let ec = echarts.init(document.getElementById('ec'));
    ec.setOption(option);
</script>
</body>
</html>
